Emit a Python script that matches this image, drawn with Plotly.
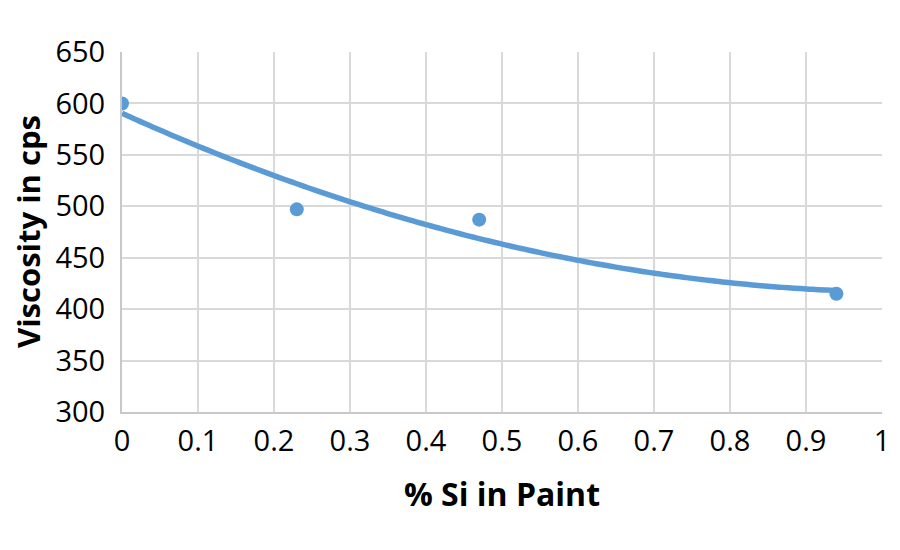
import numpy as np
import plotly.graph_objects as go

# Data
si_pct = [0.0, 0.23, 0.47, 0.94]
viscosity = [600, 497, 487, 415]

x_ticks = [0, 0.1, 0.2, 0.3, 0.4, 0.5, 0.6, 0.7, 0.8, 0.9, 1]
x_tick_labels = ["0", "0.1", "0.2", "0.3", "0.4", "0.5", "0.6", "0.7", "0.8", "0.9", "1"]
y_ticks = [300, 350, 400, 450, 500, 550, 600, 650]

BLUE = "#5B9BD5"
GRID = "#D9D9D9"
FONT = "Open Sans, Liberation Sans, sans-serif"

# Polynomial (order 2) trendline fitted to the data, like a spreadsheet trendline
coef = np.polyfit(si_pct, viscosity, 2)
trend_x = np.linspace(min(si_pct), max(si_pct), 120)
trend_y = np.polyval(coef, trend_x)

fig = go.Figure()
fig.add_trace(go.Scatter(
    x=trend_x, y=trend_y, mode="lines",
    line=dict(color=BLUE, width=5.5, shape="spline"),
    hoverinfo="skip", showlegend=False,
))
fig.add_trace(go.Scatter(
    x=si_pct, y=viscosity, mode="markers",
    marker=dict(color=BLUE, size=14),
    showlegend=False,
))

# The page body has an 8px default margin, so the figure is 892x542 and offset.
fig.update_layout(
    width=892, height=542,
    margin=dict(l=114, r=18, t=44, b=138),
    paper_bgcolor="white", plot_bgcolor="white",
    font=dict(family=FONT, color="black"),
    xaxis=dict(
        range=[0, 1], tickvals=x_ticks, ticktext=x_tick_labels,
        showgrid=True, gridcolor=GRID, gridwidth=2,
        zeroline=False, showline=True, linecolor="#C8C8C8", linewidth=2,
        ticks="outside", ticklen=2, tickcolor="rgba(0,0,0,0)",
        tickfont=dict(size=29, family=FONT),
        title=dict(text="<b>% Si in Paint</b>", font=dict(size=32, family=FONT), standoff=26),
        automargin=False,
    ),
    yaxis=dict(
        range=[300, 650], tickvals=y_ticks,
        showgrid=True, gridcolor=GRID, gridwidth=2,
        zeroline=False, showline=True, linecolor="#C8C8C8", linewidth=2,
        ticks="outside", ticklen=9, tickcolor="rgba(0,0,0,0)",
        tickfont=dict(size=29, family=FONT),
        automargin=False,
    ),
    annotations=[dict(
        text="<b>Viscosity in cps</b>", textangle=-90,
        xref="paper", yref="paper", x=0, y=0.5,
        xanchor="center", yanchor="middle", xshift=-94,
        showarrow=False, font=dict(size=31, family=FONT, color="black"),
    )],
)

fig.write_html("out.html")
